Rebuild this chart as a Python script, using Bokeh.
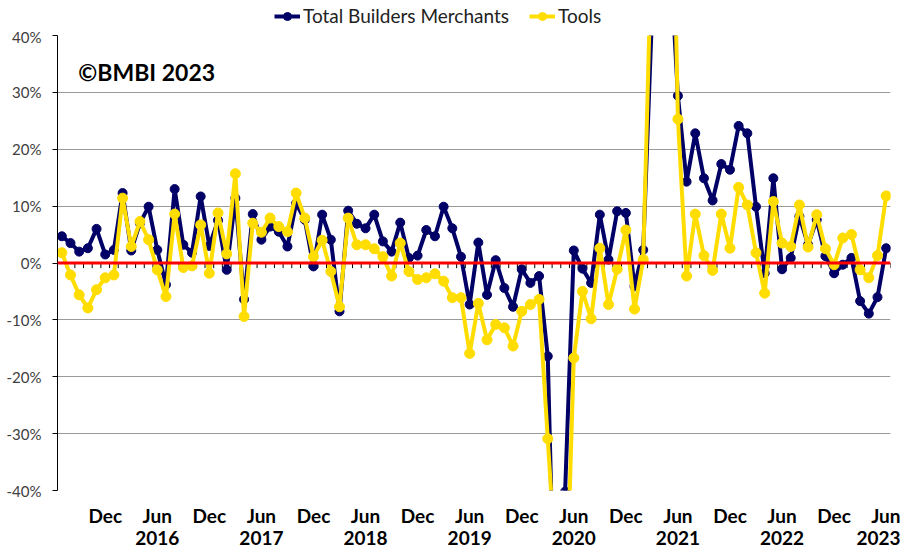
from bokeh.plotting import figure
from bokeh.layouts import column
from bokeh.models import (Range1d, LinearAxis, FixedTicker, Legend, LegendItem,
                          Span, Label, ColumnDataSource)
from bokeh.embed import file_html
from bokeh.resources import INLINE

# ---------------- data ----------------
MONTH_NAMES = ["Jan", "Feb", "Mar", "Apr", "May", "Jun",
               "Jul", "Aug", "Sep", "Oct", "Nov", "Dec"]
# categories: Jul 2015 .. Jun 2023 (96 months)
months = [(y, m) for y in range(2015, 2024) for m in MONTH_NAMES][6:102]

total_builders_merchants = [
    4.7, 3.5, 2.0, 2.6, 6.0, 1.5, 2.3, 12.3, 2.2, 7.0, 9.9, 2.3,
    -3.8, 13.0, 3.2, 1.8, 11.7, 3.0, 7.5, -1.2, 11.4, -6.4, 8.6, 4.1,
    6.4, 5.5, 2.9, 10.5, 7.6, -0.6, 8.5, 4.1, -8.5, 9.2, 6.9, 6.1,
    8.5, 3.8, 2.0, 7.1, 0.9, 1.3, 5.8, 4.7, 9.9, 6.1, 1.1, -7.3,
    3.6, -5.6, 0.5, -4.4, -7.7, -1.1, -3.5, -2.3, -16.4, -77.0, -40.2, 2.2,
    -1.0, -3.5, 8.5, 0.6, 9.1, 8.8, -4.1, 2.3, 43.0, 130.0, 57.0, 29.4,
    14.3, 22.8, 14.9, 11.0, 17.4, 16.4, 24.1, 22.8, 9.9, -1.8, 14.9, -1.1,
    0.9, 8.2, 3.2, 7.6, 1.2, -1.8, -0.3, 0.9, -6.7, -8.9, -6.0, 2.6,
]
tools = [
    1.8, -2.1, -5.6, -7.9, -4.7, -2.6, -2.1, 11.4, 2.9, 7.3, 4.1, -1.2,
    -5.9, 8.6, -0.8, -0.5, 6.7, -1.8, 8.8, 1.6, 15.7, -9.4, 7.0, 5.4,
    7.9, 6.4, 5.5, 12.3, 7.9, 1.1, 4.0, -1.5, -7.7, 7.9, 3.2, 3.2,
    2.5, 1.1, -2.3, 3.5, -1.5, -2.9, -2.6, -1.9, -3.2, -6.1, -6.1, -15.9,
    -7.1, -13.5, -10.8, -11.4, -14.6, -8.5, -7.3, -6.4, -30.9, -55.0, -67.0, -16.7,
    -5.0, -9.8, 2.6, -7.3, -1.1, 5.8, -8.1, 0.6, 58.0, 150.0, 100.0, 25.3,
    -2.3, 8.6, 1.3, -1.3, 8.6, 2.6, 13.3, 10.2, 1.8, -5.3, 10.8, 3.5,
    2.9, 10.2, 2.8, 8.5, 2.5, -0.3, 4.4, 5.0, -1.2, -2.6, 1.3, 11.8,
]
y_ticks = [-40, -30, -20, -10, 0, 10, 20, 30, 40]
label_months = ["Dec", "Jun"]
series_names = ["Total Builders Merchants", "Tools"]

NAVY = "#000066"
YELLOW = "#FFDD00"
FONT = "Lato"
NAN = float("nan")

idx = list(range(len(months)))
src = ColumnDataSource(dict(x=idx, total=total_builders_merchants, tools=tools))

p = figure(frame_width=833, frame_height=455, output_backend="svg",
           toolbar_location=None,
           x_range=Range1d(-0.5, len(months) - 0.5), y_range=Range1d(-40, 40),
           x_axis_location=None, min_border_left=57, min_border_right=10,
           min_border_top=8, min_border_bottom=0)
p.outline_line_color = None
p.background_fill_color = "white"

# y axis
p.yaxis.ticker = FixedTicker(ticks=y_ticks, minor_ticks=[])
p.yaxis.major_label_overrides = {t: f"{t}%" for t in y_ticks}
p.yaxis.axis_line_color = "black"
p.yaxis.major_tick_line_color = "black"
p.yaxis.major_tick_out = 5
p.yaxis.major_tick_in = 0
p.yaxis.minor_tick_line_color = None
p.yaxis.major_label_text_font = FONT
p.yaxis.major_label_text_font_size = "15px"
p.yaxis.major_label_text_color = "#404040"
p.yaxis.major_label_standoff = 11

p.ygrid.ticker = FixedTicker(ticks=y_ticks, minor_ticks=[])
p.ygrid.grid_line_color = "#9A9A9A"
p.ygrid.grid_line_width = 1
p.xgrid.grid_line_color = None

# x axes: month row and year row
tick_idx = [i for i, (y, m) in enumerate(months) if m in label_months]
year_idx = [i for i, (y, m) in enumerate(months) if m == label_months[1]]

ax_m = LinearAxis(ticker=FixedTicker(ticks=tick_idx, minor_ticks=[]),
                  major_label_overrides={i: months[i][1] for i in tick_idx})
ax_y = LinearAxis(ticker=FixedTicker(ticks=year_idx, minor_ticks=[]),
                  major_label_overrides={i: str(months[i][0]) for i in year_idx})
for ax, standoff in ((ax_m, 13), (ax_y, 1)):
    ax.axis_line_color = None
    ax.major_tick_line_color = None
    ax.major_tick_out = 0
    ax.major_tick_in = 0
    ax.minor_tick_line_color = None
    ax.major_label_text_font = FONT
    ax.major_label_text_font_style = "bold"
    ax.major_label_text_font_size = "19px"
    ax.major_label_text_color = "black"
    ax.major_label_standoff = standoff
p.add_layout(ax_m, "below")
p.add_layout(ax_y, "below")

# category tick marks along zero line
bounds = [i + 0.5 for i in idx]
p.segment(x0=bounds, y0=[0] * len(bounds), x1=bounds, y1=[-0.9] * len(bounds),
          line_color="black", line_width=1)

# series
p.line("x", "total", source=src, line_color=NAVY, line_width=4, line_join="round")
p.scatter("x", "total", source=src, size=9, fill_color=NAVY, line_color=NAVY)
p.line("x", "tools", source=src, line_color=YELLOW, line_width=4, line_join="round")
p.scatter("x", "tools", source=src, size=10, fill_color=YELLOW, line_color=YELLOW)

# red zero line
p.add_layout(Span(location=0, dimension="width", line_color="#FF0000", line_width=3))

# watermark
p.add_layout(Label(x=1.9, y=33.6, text="©BMBI 2023", text_font=FONT,
                   text_font_style="bold", text_font_size="23px",
                   text_color="black", text_baseline="middle", text_align="left"))

# ---------------- legend strip above the chart ----------------
leg = figure(width=900, height=27, output_backend="svg", toolbar_location=None,
             x_range=Range1d(0, 1), y_range=Range1d(0, 1),
             x_axis_location=None, y_axis_location=None,
             min_border_left=0, min_border_right=0, min_border_top=0,
             min_border_bottom=0)
leg.outline_line_color = None
leg.grid.visible = False
g1 = [leg.line(x=[NAN], y=[NAN], line_color=NAVY, line_width=4),
      leg.scatter(x=[NAN], y=[NAN], size=9, fill_color=NAVY, line_color=NAVY)]
g2 = [leg.line(x=[NAN], y=[NAN], line_color=YELLOW, line_width=4),
      leg.scatter(x=[NAN], y=[NAN], size=10, fill_color=YELLOW, line_color=YELLOW)]
legend = Legend(items=[LegendItem(label=series_names[0], renderers=g1),
                       LegendItem(label=series_names[1], renderers=g2)],
                orientation="horizontal", location=(217, 0),
                border_line_color=None, background_fill_alpha=0,
                label_text_font=FONT, label_text_font_size="19px",
                label_text_color="#222222",
                glyph_width=26, glyph_height=20, label_height=20,
                label_standoff=3, spacing=20, padding=1, margin=0)
leg.add_layout(legend, "center")

layout = column(leg, p, spacing=0)
open("out.html", "w").write(file_html(layout, INLINE))
